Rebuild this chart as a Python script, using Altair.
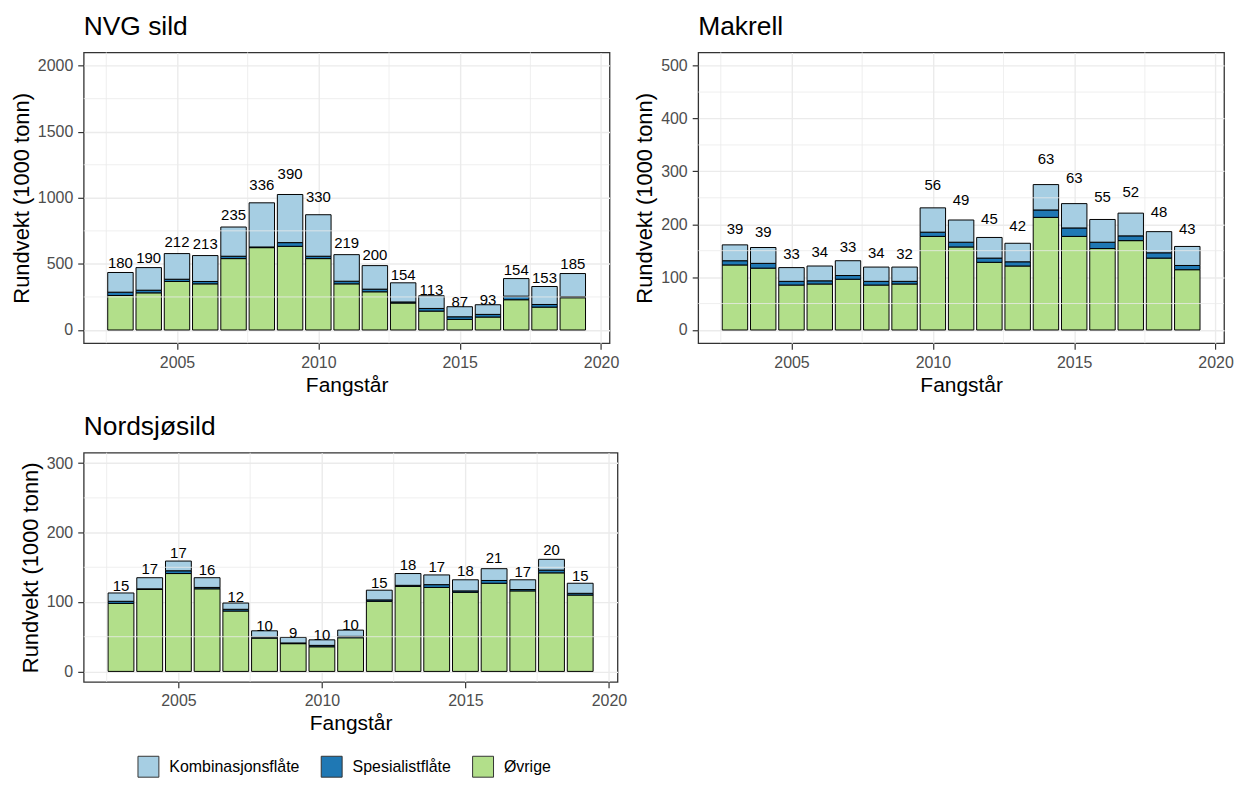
import altair as alt
import pandas as pd

years = list(range(2003, 2020))
groups = ["Kombinasjonsflåte", "Spesialistflåte", "Øvrige"]
colors = ["#A6CEE3", "#1F78B4", "#B2DF8A"]

# NVG sild (1000 tonn)
nvg_ovrige = [261, 281, 367, 349, 540, 623, 633, 540, 349, 289, 204, 143, 80, 98, 229, 173, 244]
nvg_spesialist = [25, 20, 17, 18, 18, 5, 28, 18, 20, 20, 8, 20, 20, 20, 27, 20, 8]
nvg_kombinasjon = [149, 171, 194, 196, 221, 334, 364, 314, 201, 178, 145, 96, 76, 73, 133, 136, 175]
nvg_labels = [180, 190, 212, 213, 235, 336, 390, 330, 219, 200, 154, 113, 87, 93, 154, 153, 185]

# Makrell
mak_ovrige = [123, 117, 85, 87, 96, 85, 87, 177, 157, 128, 121, 213, 177, 154, 169, 136, 114]
mak_spesialist = [8, 9, 7, 6, 7, 7, 5, 8, 9, 8, 8, 14, 16, 12, 9, 10, 8]
mak_kombinasjon = [30, 30, 26, 28, 28, 27, 27, 46, 42, 39, 35, 48, 46, 43, 43, 40, 36]
mak_labels = [39, 39, 33, 34, 33, 34, 32, 56, 49, 45, 42, 63, 63, 55, 52, 48, 43]

# Nordsjøsild
nss_ovrige = [98, 118, 141, 119, 87, 48, 40, 35.5, 48.5, 101, 122.5, 121, 114, 127, 116, 142, 110]
nss_spesialist = [3, 1, 4, 2, 2.5, 1.5, 1, 2, 2, 2, 1.5, 4, 2, 4, 2, 4, 2.5]
nss_kombinasjon = [12, 16, 14, 14, 9, 9, 8, 8, 9, 14, 17, 14, 16, 17, 14, 15.5, 14.5]
nss_labels = [15, 17, 17, 16, 12, 10, 9, 10, 10, 15, 18, 17, 18, 21, 17, 20, 15]

FONT = "Liberation Sans"
x_ticks = [2005, 2010, 2015, 2020]
x_minor = [2002.5, 2007.5, 2012.5, 2017.5]


def panel(title, ovr, spe, kom, labels, ymax, ystep, k, w, h):
    rows = []
    for i, yr in enumerate(years):
        rows.append({"year": yr, "group": "Øvrige", "value": ovr[i], "order": 0})
        rows.append({"year": yr, "group": "Spesialistflåte", "value": spe[i], "order": 1})
        rows.append({"year": yr, "group": "Kombinasjonsflåte", "value": kom[i], "order": 2})
    bars_df = pd.DataFrame(rows)
    lab_df = pd.DataFrame({
        "year": years,
        "total": [ovr[i] + spe[i] + kom[i] for i in range(len(years))],
        "label": labels,
    })
    y_ticks = list(range(0, ymax + 1, ystep))
    y_minor = [v + ystep / 2 for v in y_ticks[:-1]]
    pad = ymax * 0.05
    xs = alt.Scale(domain=[2001.7, 2020.3], nice=False, zero=False)
    ys = alt.Scale(domain=[-pad, ymax + pad], nice=False, zero=False)
    xax = alt.Axis(values=x_ticks, title="Fangstår", format="d")
    yax = alt.Axis(values=y_ticks, title="Rundvekt (1000 tonn)", format="d")

    minor_x = alt.Chart(pd.DataFrame({"v": x_minor})).mark_rule(
        color="#EBEBEB", strokeWidth=0.8
    ).encode(x=alt.X("v:Q", scale=xs, axis=xax))
    minor_y = alt.Chart(pd.DataFrame({"v": y_minor})).mark_rule(
        color="#EBEBEB", strokeWidth=0.8
    ).encode(y=alt.Y("v:Q", scale=ys, axis=yax))

    bars = alt.Chart(bars_df).transform_stack(
        stack="value", groupby=["year"], as_=["y0", "y1"],
        sort=[alt.SortField("order", order="ascending")]
    ).transform_calculate(
        x0="datum.year - 0.45", x1="datum.year + 0.45"
    ).mark_rect(stroke="black", strokeWidth=1).encode(
        x=alt.X("x0:Q", scale=xs, axis=xax),
        x2="x1:Q",
        y=alt.Y("y0:Q", scale=ys, axis=yax),
        y2="y1:Q",
        color=alt.Color(
            "group:N",
            scale=alt.Scale(domain=groups, range=colors),
            legend=alt.Legend(
                title=None, orient="none", direction="horizontal",
                legendX=54, legendY=706,
                symbolType="square", symbolSize=441,
                symbolStrokeColor="#333333", symbolStrokeWidth=1,
                labelFontSize=16, labelColor="black", labelFont=FONT,
                labelOffset=10, columnPadding=19,
            ),
        ),
    )

    text = alt.Chart(lab_df).transform_calculate(
        ly=f"datum.total + {k} * datum.label"
    ).mark_text(fontSize=15, font=FONT, color="black", baseline="middle").encode(
        x=alt.X("year:Q", scale=xs, axis=xax),
        y=alt.Y("ly:Q", scale=ys, axis=yax),
        text=alt.Text("label:Q", format="d"),
    )

    return alt.layer(bars, minor_x, minor_y, text).properties(
        width=w, height=h,
        title=alt.TitleParams(title, anchor="start", frame="group"),
    )


p1 = panel("NVG sild", nvg_ovrige, nvg_spesialist, nvg_kombinasjon, nvg_labels,
           2000, 500, 0.4, 528, 292)
p2 = panel("Makrell", mak_ovrige, mak_spesialist, mak_kombinasjon, mak_labels,
           500, 100, 0.77, 528, 292)
p3 = panel("Nordsjøsild", nss_ovrige, nss_spesialist, nss_kombinasjon, nss_labels,
           300, 100, 0.7, 536, 230)

chart = alt.vconcat(
    alt.hconcat(p1, p2, spacing=13),
    p3,
    spacing=17,
).resolve_scale(color="shared").resolve_legend(color="shared").properties(
    padding={"left": 1, "top": 3, "right": 0, "bottom": 0}
).configure_view(
    stroke="#333333", strokeWidth=1.3
).configure_axis(
    labelFont=FONT, titleFont=FONT,
    labelFontSize=16, labelColor="#4D4D4D",
    titleFontWeight="normal", titleColor="black",
    tickColor="#333333", tickWidth=1.2, tickSize=6,
    domain=False, grid=True, gridColor="#EBEBEB", gridWidth=1.4,
    labelPadding=5, titlePadding=4,
).configure_axisX(
    titleFontSize=21,
).configure_axisY(
    titleFontSize=22,
).configure_title(
    font=FONT, fontSize=26.5, fontWeight="normal", color="black", offset=12,
)

chart.save("out.html", embed_options={"renderer": "svg", "actions": False})
